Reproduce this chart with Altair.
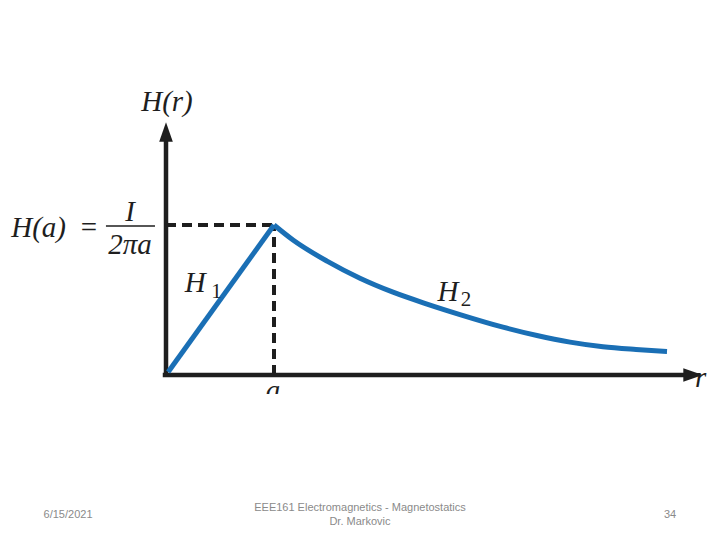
import altair as alt
import pandas as pd

# ---- data (in units: r in multiples of a, H in multiples of H(a)) ----
h1_r = [0.02, 1.0]
h1_H = [0.02, 1.0]

h2_r = [1.0, 1.176, 1.491, 1.796, 2.102, 2.417, 2.722, 3.12, 3.435, 3.741, 4.046, 4.352, 4.639]
h2_H = [1.0, 0.9, 0.759, 0.645, 0.552, 0.473, 0.403, 0.319, 0.263, 0.219, 0.188, 0.17, 0.157]

a_value = 1.0
Ha_value = 1.0

footer_left = "6/15/2021"
footer_mid1 = "EEE161 Electromagnetics - Magnetostatics"
footer_mid2 = "Dr. Markovic"
footer_right = "34"

R_DOMAIN = [-158 / 108, 546 / 108]
H_DOMAIN = [-157 / 150, 367 / 150]

xs = alt.Scale(domain=R_DOMAIN, nice=False, zero=False)
ys = alt.Scale(domain=H_DOMAIN, nice=False, zero=False)

SERIF = "Liberation Serif"
SANS = "Liberation Sans"
BLUE = "#1a6fb5"
INK = "#1e1e1e"


def X(f="r"):
    return alt.X(f"{f}:Q", scale=xs, axis=None)


def Y(f="H"):
    return alt.Y(f"{f}:Q", scale=ys, axis=None)


def txt(r, H, label, **kw):
    df = pd.DataFrame({"r": [r], "H": [H], "label": [label]})
    return alt.Chart(df).mark_text(**kw).encode(x=X(), y=Y(), text="label:N")


h1 = alt.Chart(pd.DataFrame({"r": h1_r, "H": h1_H})).mark_line(
    color=BLUE, strokeWidth=5, strokeJoin="miter"
).encode(x=X(), y=Y(), order="r:Q")

h2 = alt.Chart(pd.DataFrame({"r": h2_r, "H": h2_H})).mark_line(
    color=BLUE, strokeWidth=5, interpolate="monotone"
).encode(x=X(), y=Y(), order="r:Q")

axes_df = pd.DataFrame({
    "r": [-0.03, 0.0],
    "H": [0.0, -0.013],
    "r2": [4.806, 0.0],
    "H2": [0.0, 1.567],
})
axes = alt.Chart(axes_df).mark_rule(color=INK, strokeWidth=4.5).encode(
    x=X(), y=Y(), x2="r2:Q", y2="H2:Q"
)

arrow_up = alt.Chart(pd.DataFrame({"r": [0.0], "H": [1.62]})).mark_point(
    shape="M0,-1L-0.7,1L0.7,1Z", size=380, filled=True, color=INK, opacity=1
).encode(x=X(), y=Y())
arrow_right = alt.Chart(pd.DataFrame({"r": [4.88], "H": [0.0]})).mark_point(
    shape="M1,0L-1,-0.7L-1,0.7Z", size=380, filled=True, color=INK, opacity=1
).encode(x=X(), y=Y())

dash_df = pd.DataFrame({
    "r": [0.0, a_value],
    "H": [Ha_value, 0.0],
    "r2": [a_value, a_value],
    "H2": [Ha_value, Ha_value],
})
dashes = alt.Chart(dash_df).mark_rule(
    color=INK, strokeWidth=4, strokeDash=[10, 6]
).encode(x=X(), y=Y(), x2="r2:Q", y2="H2:Q")

frac_df = pd.DataFrame({"r": [-0.556], "H": [0.993], "r2": [-0.102], "H2": [0.993]})
frac_line = alt.Chart(frac_df).mark_rule(color=INK, strokeWidth=1.5).encode(
    x=X(), y=Y(), x2="r2:Q", y2="H2:Q"
)

big = dict(font=SERIF, fontSize=29, color=INK, baseline="middle")
sub = dict(font=SERIF, fontSize=21, color=INK, baseline="middle", align="left")

labels = [
    txt(0.009, 1.82, "H(r)", fontStyle="italic", align="center", **big),
    txt(-0.926, 0.98, "H(a)", fontStyle="italic", align="right", **big),
    txt(-0.713, 0.98, "=", align="center", **big),
    txt(-0.333, 1.087, "I", fontStyle="italic", align="center", **big),
    txt(-0.333, 0.867, "2πa", fontStyle="italic", align="center", **big),
    txt(0.27, 0.613, "H", fontStyle="italic", align="center", **big),
    txt(0.42, 0.553, "1", **sub),
    txt(2.611, 0.553, "H", fontStyle="italic", align="center", **big),
    txt(2.73, 0.5, "2", **sub),
    txt(0.99, -0.107, "a", fontStyle="italic", align="center", **big),
    txt(4.898, -0.02, "r", fontStyle="italic", align="left", **big),
]

# white band hiding lower part of the 'a' label, as in the cropped original
cover_df = pd.DataFrame({"r": [0.75], "H": [-0.127], "r2": [1.25], "H2": [-0.35]})
cover = alt.Chart(cover_df).mark_rect(color="white").encode(
    x=X(), y=Y(), x2="r2:Q", y2="H2:Q"
)

foot = dict(font=SANS, fontSize=11, color="#8a8a8a", baseline="middle", align="center")
footers = [
    txt(-0.907, -0.933, footer_left, **foot),
    txt(1.796, -0.887, footer_mid1, **foot),
    txt(1.796, -0.98, footer_mid2, **foot),
    txt(4.667, -0.933, footer_right, **foot),
]

chart = alt.layer(
    dashes, axes, arrow_up, arrow_right, h1, h2, frac_line, *labels, cover, *footers
).properties(
    width=704, height=524, autosize=alt.AutoSizeParams(type="none"), padding=0,
    background="white",
).configure_view(stroke=None)

chart.save("out.html", embed_options={"renderer": "svg", "actions": False})
